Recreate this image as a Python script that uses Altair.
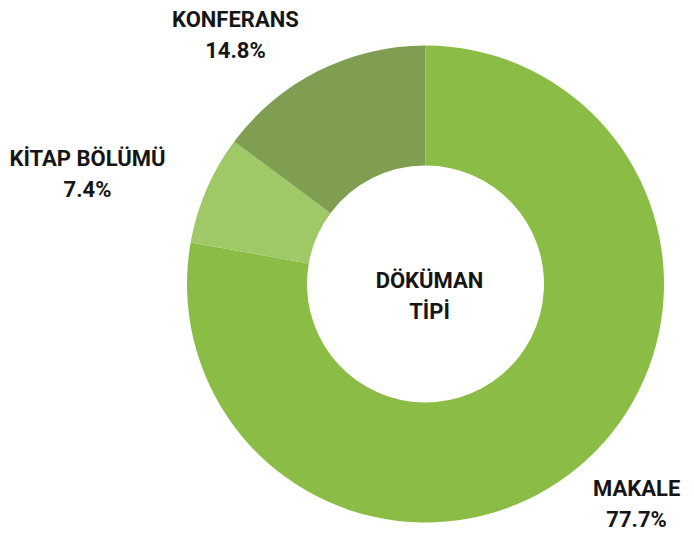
import altair as alt
import pandas as pd

categories = ["MAKALE", "KİTAP BÖLÜMÜ", "KONFERANS"]
percentages = [77.7, 7.4, 14.8]
pct_labels = ["77.7%", "7.4%", "14.8%"]
colors = ["#8bbd46", "#9fc966", "#7f9e51"]
center_title = "DÖKÜMAN\nTİPİ"

df = pd.DataFrame({
    "category": categories,
    "value": percentages,
    "idx": list(range(len(categories))),
    "label": [f"{c}\n{p}" for c, p in zip(categories, pct_labels)],
})

theta = alt.Theta("value:Q", stack=True)
order = alt.Order("idx:Q")

base = alt.Chart(df)

arcs = base.mark_arc(innerRadius=118.5, outerRadius=238.5, stroke=None).encode(
    theta=theta,
    order=order,
    color=alt.Color("category:N", scale=alt.Scale(domain=categories, range=colors), legend=None),
)

FONT = "Roboto"
FS = 22
label_offsets = {"MAKALE": (-1, -48), "KİTAP BÖLÜMÜ": (-35, 6), "KONFERANS": (-42, 31)}

label_layers = []
for cat in categories:
    dx, dy = label_offsets[cat]
    label_layers.append(
        base.mark_text(
            radius=330, font=FONT, fontSize=FS, fontWeight="bold", color="#161616",
            lineBreak="\n", lineHeight=31, align="center", baseline="middle", dx=dx, dy=dy,
        ).encode(
            theta=theta,
            order=order,
            text="label:N",
            opacity=alt.condition(alt.datum.category == cat, alt.value(1), alt.value(0)),
        )
    )

center = alt.Chart(pd.DataFrame({"t": [center_title]})).mark_text(
    font=FONT, fontSize=FS, fontWeight="bold", color="#161616",
    lineBreak="\n", lineHeight=31, align="center", baseline="middle", dx=4, dy=-3,
).encode(text="t:N")

chart = alt.layer(arcs, *label_layers, center).properties(
    width=521, height=480,
    padding={"left": 157, "top": 36, "right": 0, "bottom": 10},
    autosize=alt.AutoSizeParams(type="none"),
).configure_view(stroke=None)

chart.save("out.html", embed_options={"renderer": "svg", "actions": False})
